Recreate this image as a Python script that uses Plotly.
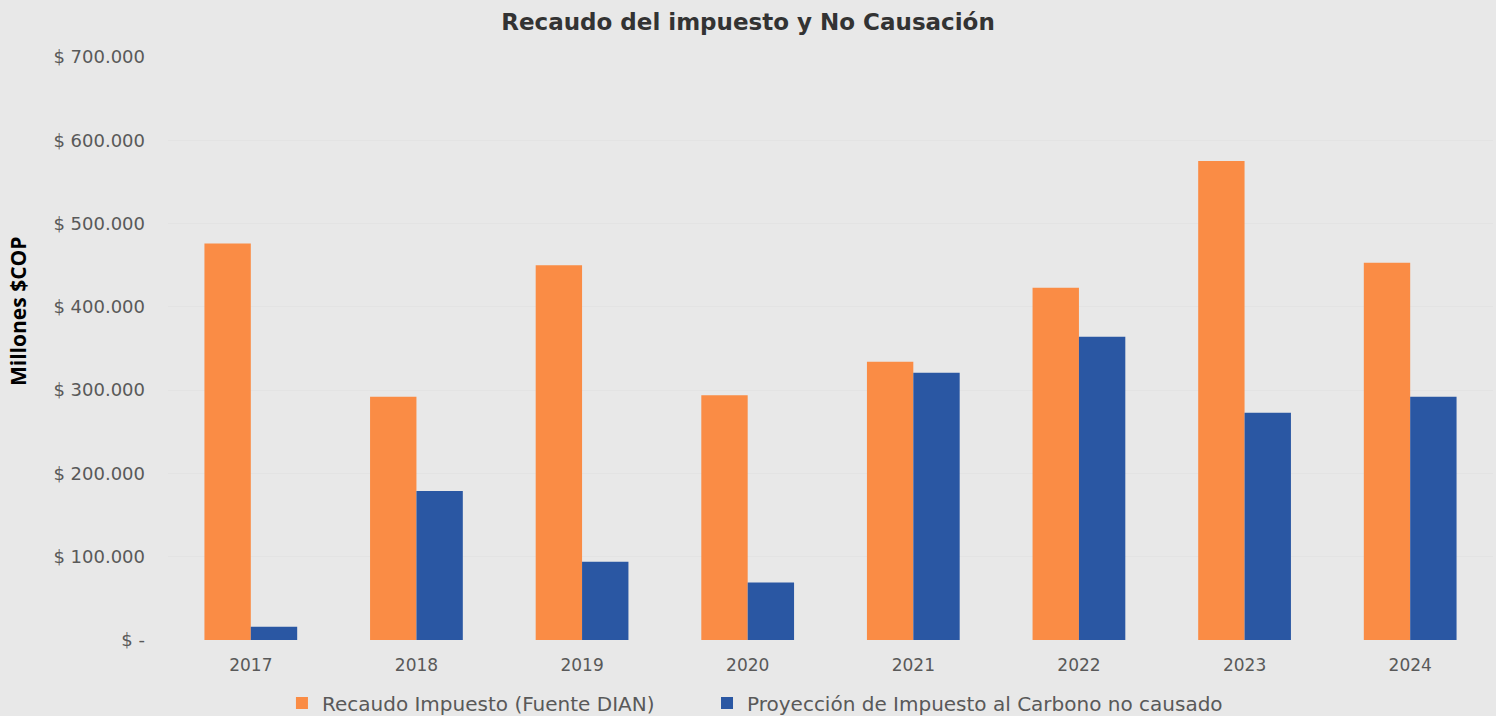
import plotly.graph_objects as go

years = ["2017", "2018", "2019", "2020", "2021", "2022", "2023", "2024"]
recaudo = [476000, 292000, 450000, 294000, 334000, 423000, 575000, 453000]
no_causado = [16000, 179000, 94000, 69000, 321000, 364000, 273000, 292000]
tick_vals = [0, 100000, 200000, 300000, 400000, 500000, 600000, 700000]
tick_text = ["$ -", "$ 100.000", "$ 200.000", "$ 300.000", "$ 400.000",
             "$ 500.000", "$ 600.000", "$ 700.000"]

fig = go.Figure()
fig.add_trace(go.Bar(x=years, y=recaudo, name="Recaudo Impuesto (Fuente DIAN)",
                     marker=dict(color="#FA8C45", line=dict(width=0)), legend="legend"))
fig.add_trace(go.Bar(x=years, y=no_causado, name="Proyección de Impuesto al Carbono no causado",
                     marker=dict(color="#2A57A3", line=dict(width=0)), legend="legend2"))

legend_common = dict(orientation="h", xanchor="left", yref="container", y=0.018,
                     yanchor="middle",
                     font=dict(family="DejaVu Sans", size=20, color="#595959"),
                     bgcolor="rgba(0,0,0,0)")

fig.update_layout(
    width=1496, height=716,
    paper_bgcolor="#E8E8E8", plot_bgcolor="#E8E8E8",
    barmode="group", bargap=0.44, bargroupgap=0,
    margin=dict(l=168, r=3, t=57, b=76, autoexpand=False),
    title=dict(text="<b>Recaudo del impuesto y No Causación</b>", x=0.5, xanchor="center",
               y=0.969, yanchor="middle",
               font=dict(family="DejaVu Sans", size=23, color="#333333")),
    font=dict(family="DejaVu Sans", color="#595959"),
    legend=dict(x=0.086, **legend_common),
    legend2=dict(x=0.4068, **legend_common),
    showlegend=True,
    annotations=[dict(text="<b>Millones $COP</b>", textangle=-90, xref="paper", yref="paper",
                      x=(18 - 168) / 1325, y=(640 - 312) / 583, xanchor="center",
                      yanchor="middle", showarrow=False,
                      font=dict(family="Open Sans", size=21, color="#000000"))],
)
fig.update_yaxes(range=[0, 700000], tickvals=tick_vals, ticktext=tick_text,
                 tickfont=dict(family="DejaVu Sans", size=18, color="#595959"),
                 gridcolor="#E3E3E3", gridwidth=1, zeroline=False,
                 ticklabelstandoff=22, automargin=False)
fig.update_xaxes(tickfont=dict(family="DejaVu Sans", size=17, color="#595959"),
                 showgrid=False, showline=False, ticks="", ticklabelstandoff=13,
                 automargin=False)

fig.write_html("out.html", config={"displayModeBar": False},
               post_script="document.body.style.margin='0';document.body.style.background='#E8E8E8';")
